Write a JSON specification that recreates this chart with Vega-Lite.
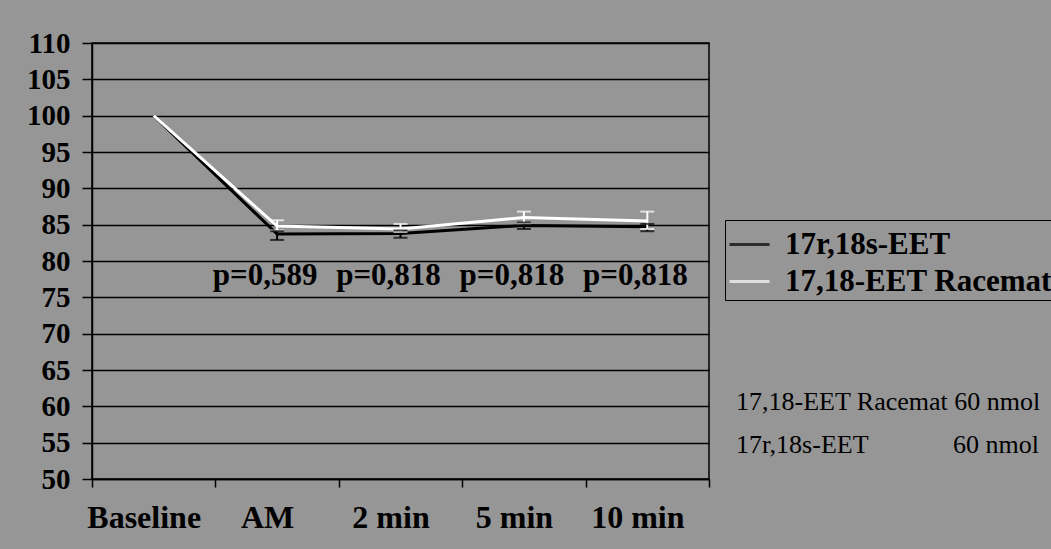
{
  "$schema": "https://vega.github.io/schema/vega-lite/v6.json",
  "width": 617,
  "height": 436,
  "autosize": {"type": "none"},
  "padding": {"left": 92, "top": 43, "right": 342, "bottom": 70},
  "background": "#969696",
  "config": {
    "view": {"stroke": "black", "strokeWidth": 1.5},
    "font": "Liberation Serif",
    "axisY": {
      "title": null,
      "labelOverlap": false,
      "tickSize": 10,
      "tickColor": "black",
      "tickWidth": 1.5,
      "domainColor": "black",
      "domainWidth": 1.5,
      "grid": true,
      "gridColor": "black",
      "gridWidth": 1.6,
      "gridOpacity": 1,
      "labelFont": "Liberation Serif",
      "labelFontWeight": "bold",
      "labelFontSize": 29,
      "labelColor": "black",
      "labelPadding": 12
    }
  },
  "datasets": {
    "series": [
      {"series": "17r,18s-EET", "time": "Baseline", "value": 100, "lo": null, "hi": null},
      {"series": "17r,18s-EET", "time": "AM", "value": 83.7, "lo": 82.9, "hi": 84.1},
      {"series": "17r,18s-EET", "time": "2 min", "value": 83.8, "lo": 83.2, "hi": 84.2},
      {"series": "17r,18s-EET", "time": "5 min", "value": 84.9, "lo": 84.4, "hi": 85.3},
      {"series": "17r,18s-EET", "time": "10 min", "value": 84.7, "lo": 84.1, "hi": 85.1},
      {"series": "17,18-EET Racemat", "time": "Baseline", "value": 100, "lo": null, "hi": null},
      {"series": "17,18-EET Racemat", "time": "AM", "value": 84.8, "lo": 84.2, "hi": 85.6},
      {"series": "17,18-EET Racemat", "time": "2 min", "value": 84.4, "lo": 84.0, "hi": 85.1},
      {"series": "17,18-EET Racemat", "time": "5 min", "value": 86.0, "lo": 85.2, "hi": 86.8},
      {"series": "17,18-EET Racemat", "time": "10 min", "value": 85.5, "lo": 84.4, "hi": 86.8}
    ],
    "pvals": [
      {"time": "AM", "y": 78, "label": "p=0,589"},
      {"time": "2 min", "y": 78, "label": "p=0,818"},
      {"time": "5 min", "y": 78, "label": "p=0,818"},
      {"time": "10 min", "y": 78, "label": "p=0,818"}
    ],
    "notes": [
      {"note": "17,18-EET Racemat 60 nmol", "time": "Baseline", "value": 100},
      {"note": "17r,18s-EET\u00a0\u00a0\u00a0\u00a0\u00a0\u00a0\u00a0\u00a0\u00a0\u00a0\u00a0\u00a0\u00a060 nmol", "time": "Baseline", "value": 100}
    ]
  },
  "encoding": {
    "x": {
      "field": "time",
      "type": "nominal",
      "sort": ["Baseline", "AM", "2 min", "5 min", "10 min"],
      "scale": {"type": "band", "paddingInner": 0, "paddingOuter": 0, "domain": ["Baseline", "AM", "2 min", "5 min", "10 min"]},
      "axis": {
        "title": null,
        "labelAngle": 0,
        "tickBand": "extent",
        "tickSize": 8,
        "tickColor": "black",
        "tickWidth": 1.5,
        "domainColor": "black",
        "domainWidth": 1.5,
        "labelFont": "Liberation Serif",
        "labelFontWeight": "bold",
        "labelFontSize": 32,
        "labelColor": "black",
        "labelPadding": 15,
        "labelOffset": -10,
        "labelOverlap": false,
        "grid": false
      }
    }
  },
  "layer": [
    {
      "data": {"name": "series"},
      "mark": {"type": "line", "strokeWidth": 3},
      "encoding": {
        "y": {
          "field": "value",
          "type": "quantitative",
          "scale": {"domain": [50, 110], "nice": false, "zero": false},
          "axis": {"values": [50, 55, 60, 65, 70, 75, 80, 85, 90, 95, 100, 105, 110]}
        },
        "color": {
          "field": "series",
          "type": "nominal",
          "scale": {"domain": ["17r,18s-EET", "17,18-EET Racemat"], "range": ["black", "white"]},
          "legend": {
            "orient": "none",
            "legendX": 633,
            "legendY": 177,
            "title": null,
            "symbolType": "stroke",
            "symbolStrokeWidth": 3,
            "symbolSize": 1600,
            "labelFont": "Liberation Serif",
            "labelFontWeight": "bold",
            "labelFontSize": 31,
            "labelColor": "black",
            "labelLimit": 500,
            "labelOffset": 14,
            "strokeColor": "black",
            "padding": 3,
            "rowPadding": 0
          }
        }
      }
    },
    {
      "data": {"name": "series"},
      "transform": [{"filter": "datum.lo != null"}],
      "mark": {"type": "rule", "strokeWidth": 2},
      "encoding": {
        "y": {"field": "lo", "type": "quantitative", "axis": {"values": [50, 55, 60, 65, 70, 75, 80, 85, 90, 95, 100, 105, 110]}},
        "y2": {"field": "hi"},
        "color": {"field": "series", "type": "nominal"}
      }
    },
    {
      "data": {"name": "series"},
      "transform": [{"filter": "datum.lo != null"}],
      "mark": {"type": "tick", "size": 14, "thickness": 2},
      "encoding": {
        "y": {"field": "lo", "type": "quantitative", "axis": {"values": [50, 55, 60, 65, 70, 75, 80, 85, 90, 95, 100, 105, 110]}},
        "color": {"field": "series", "type": "nominal"}
      }
    },
    {
      "data": {"name": "series"},
      "transform": [{"filter": "datum.hi != null"}],
      "mark": {"type": "tick", "size": 14, "thickness": 2},
      "encoding": {
        "y": {"field": "hi", "type": "quantitative", "axis": {"values": [50, 55, 60, 65, 70, 75, 80, 85, 90, 95, 100, 105, 110]}},
        "color": {"field": "series", "type": "nominal"}
      }
    },
    {
      "data": {"name": "pvals"},
      "mark": {"type": "text", "font": "Liberation Serif", "fontWeight": "bold", "fontSize": 31, "color": "black", "dx": -12, "baseline": "middle", "align": "center"},
      "encoding": {
        "y": {"field": "y", "type": "quantitative", "axis": {"values": [50, 55, 60, 65, 70, 75, 80, 85, 90, 95, 100, 105, 110]}},
        "text": {"field": "label"}
      }
    },
    {
      "data": {"name": "notes"},
      "mark": {"type": "point", "opacity": 0},
      "encoding": {
        "y": {"field": "value", "type": "quantitative", "axis": {"values": [50, 55, 60, 65, 70, 75, 80, 85, 90, 95, 100, 105, 110]}},
        "shape": {
          "field": "note",
          "type": "nominal",
          "scale": {"domain": ["17,18-EET Racemat 60 nmol", "17r,18s-EET\u00a0\u00a0\u00a0\u00a0\u00a0\u00a0\u00a0\u00a0\u00a0\u00a0\u00a0\u00a0\u00a060 nmol"]},
          "legend": {
            "orient": "none",
            "legendX": 618,
            "legendY": 346,
            "title": null,
            "symbolSize": 0,
            "symbolOpacity": 0,
            "symbolStrokeWidth": 0,
            "labelOffset": 0,
            "padding": 0,
            "rowPadding": 17,
            "labelFont": "Liberation Serif",
            "labelFontSize": 26,
            "labelColor": "black",
            "labelLimit": 500
          }
        }
      }
    }
  ]
}
